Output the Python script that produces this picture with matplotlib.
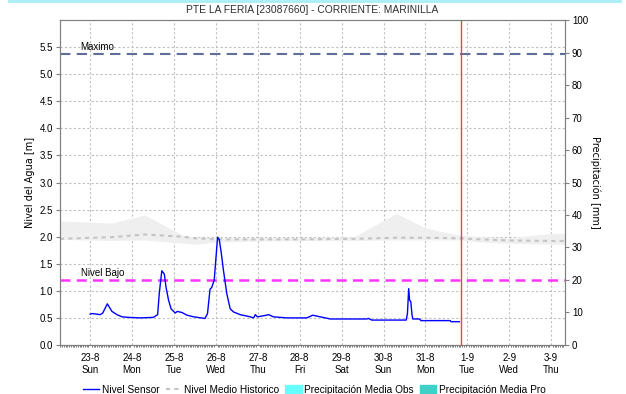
import matplotlib.pyplot as plt
from matplotlib.lines import Line2D
from matplotlib.patches import Patch
from matplotlib.ticker import MultipleLocator

plt.rcParams['font.family'] = ['Liberation Sans', 'DejaVu Sans']

# days since 23-8 00:00
day_labels = ['23-8\nSun', '24-8\nMon', '25-8\nTue', '26-8\nWed', '27-8\nThu', '28-8\nFri',
              '29-8\nSat', '30-8\nSun', '31-8\nMon', '1-9\nTue', '2-9\nWed', '3-9\nThu']

sensor_day = [0.00, 0.05, 0.16, 0.24, 0.30, 0.41, 0.52, 0.64, 0.76, 0.91, 1.20, 1.51,
              1.61, 1.65, 1.71, 1.77, 1.81, 1.87, 1.93, 2.03, 2.08, 2.19, 2.31, 2.47,
              2.74, 2.80, 2.86, 2.90, 2.96, 3.01, 3.04, 3.08, 3.13, 3.18, 3.26, 3.34,
              3.42, 3.58, 3.82, 3.90, 3.94, 3.99, 4.14, 4.26, 4.37, 4.69, 5.17, 5.31,
              5.49, 5.73, 6.60, 6.64, 6.72, 7.16, 7.54, 7.57, 7.60, 7.62, 7.65, 7.68,
              7.70, 7.86, 7.89, 8.59, 8.61, 8.81]
sensor_lvl = [0.57, 0.58, 0.57, 0.56, 0.59, 0.76, 0.62, 0.56, 0.52, 0.51, 0.50, 0.51,
              0.56, 0.96, 1.37, 1.31, 1.07, 0.83, 0.67, 0.59, 0.62, 0.60, 0.55, 0.52,
              0.49, 0.58, 1.03, 1.06, 1.20, 1.69, 1.99, 1.95, 1.69, 1.38, 0.95, 0.67,
              0.61, 0.56, 0.52, 0.50, 0.56, 0.52, 0.54, 0.56, 0.52, 0.50, 0.50, 0.55,
              0.52, 0.48, 0.48, 0.49, 0.46, 0.46, 0.46, 0.58, 1.04, 0.83, 0.80, 0.55,
              0.48, 0.48, 0.45, 0.45, 0.43, 0.43]

hist_day = [-0.72, 0.5, 1.3, 2.2, 2.5, 3.0, 4.0, 5.0, 6.3, 7.3, 8.0, 8.8, 9.3, 10.0, 11.0, 11.33]
hist_upper = [2.29, 2.25, 2.40, 2.03, 1.99, 1.98, 1.98, 1.98, 2.00, 2.43, 2.16, 2.03, 2.00, 1.98, 2.06, 2.06]
hist_lower = [1.95, 1.93, 1.94, 1.88, 1.86, 1.90, 1.92, 1.93, 1.93, 1.94, 1.94, 1.94, 1.90, 1.88, 1.86, 1.86]
hist_median = [1.96, 1.99, 2.04, 2.00, 1.97, 1.95, 1.95, 1.95, 1.96, 1.98, 1.98, 1.97, 1.95, 1.93, 1.92, 1.92]

nivel_maximo = 5.38
nivel_bajo = 1.2
now_day = 8.85

fig = plt.figure(figsize=(6.26, 3.94), dpi=100)
ax = fig.add_axes([0.0958, 0.1244, 0.8068, 0.8248])

ax.fill_between(hist_day, hist_lower, hist_upper, color='#efefef', lw=0, zorder=1)
ax.plot(hist_day, hist_median, color='#c4c4c4', lw=1.5, ls=(0, (2, 2)), zorder=2)
ax.axhline(nivel_maximo, color='#5f6f9a', lw=1.5, ls=(0, (5, 3)), zorder=3)
ax.axhline(nivel_bajo, color='#ff33ff', lw=1.8, ls=(0, (4, 2.5)), zorder=3)
ax.plot(sensor_day, sensor_lvl, color='#0000ff', lw=1, zorder=4)
ax.axvline(now_day, color='#ff3b3b', lw=1, zorder=5)

ax.text(-0.24, nivel_maximo + 0.03, 'Maximo', fontsize=7, va='bottom')
ax.text(-0.22, nivel_bajo + 0.03, 'Nivel Bajo', fontsize=7, va='bottom')

ax.set_xlim(-0.72, 11.33)
ax.set_ylim(0, 6.0)
ax.set_xticks(range(len(day_labels)))
ax.set_xticklabels(day_labels, fontsize=7, linespacing=1.25)
ax.xaxis.set_minor_locator(MultipleLocator(1 / 24))
ax.set_yticks([0.5 * i for i in range(12)])
ax.set_yticklabels(['%.1f' % (0.5 * i) for i in range(12)], fontsize=7)
ax.tick_params(axis='x', length=0, pad=6)
ax.tick_params(axis='x', which='minor', length=1.5, width=0.5, color='#404040')
ax.tick_params(axis='y', length=3, width=0.8, color='#808080', pad=2)
ax.grid(True, color='#c0c0c0', ls=(0, (2, 2)), lw=0.8)
ax.set_axisbelow(True)
for s in ax.spines.values():
    s.set_color('#808080')
ax.set_ylabel('Nivel del Agua [m]', fontsize=7, family='DejaVu Sans', labelpad=3)

ax2 = ax.twinx()
ax2.set_ylim(0, 100)
ax2.set_yticks(range(0, 101, 10))
ax2.tick_params(axis='y', length=3, width=0.8, color='#808080', labelsize=7, pad=2)
for s in ax2.spines.values():
    s.set_color('#808080')
ax2.set_ylabel('Precipitación [mm]', fontsize=7, family='DejaVu Sans', rotation=-90, labelpad=9)

ax.set_title('PTE LA FERIA [23087660] - CORRIENTE: MARINILLA', fontsize=7.4, color='#303030', pad=5)

handles = [Line2D([], [], color='#0000ff', lw=1),
           Line2D([], [], color='#c4c4c4', lw=1.5, ls=(0, (2, 2))),
           Patch(color='#66ffff'),
           Patch(color='#40d0c8')]
labels = ['Nivel Sensor', 'Nivel Medio Historico', 'Precipitación Media Obs', 'Precipitación Media Pro']
fig.legend(handles, labels, loc='center', bbox_to_anchor=(0.502, 0.01), ncol=4, frameon=False,
           fontsize=7.3, handlelength=1.6, handletextpad=0.25, columnspacing=0.6,
           handleheight=0.9)

fig.add_artist(Line2D([0.015, 0.99], [0.998, 0.998], color='#a8eef6', lw=2, transform=fig.transFigure))

fig.savefig('out.png', dpi=100)
